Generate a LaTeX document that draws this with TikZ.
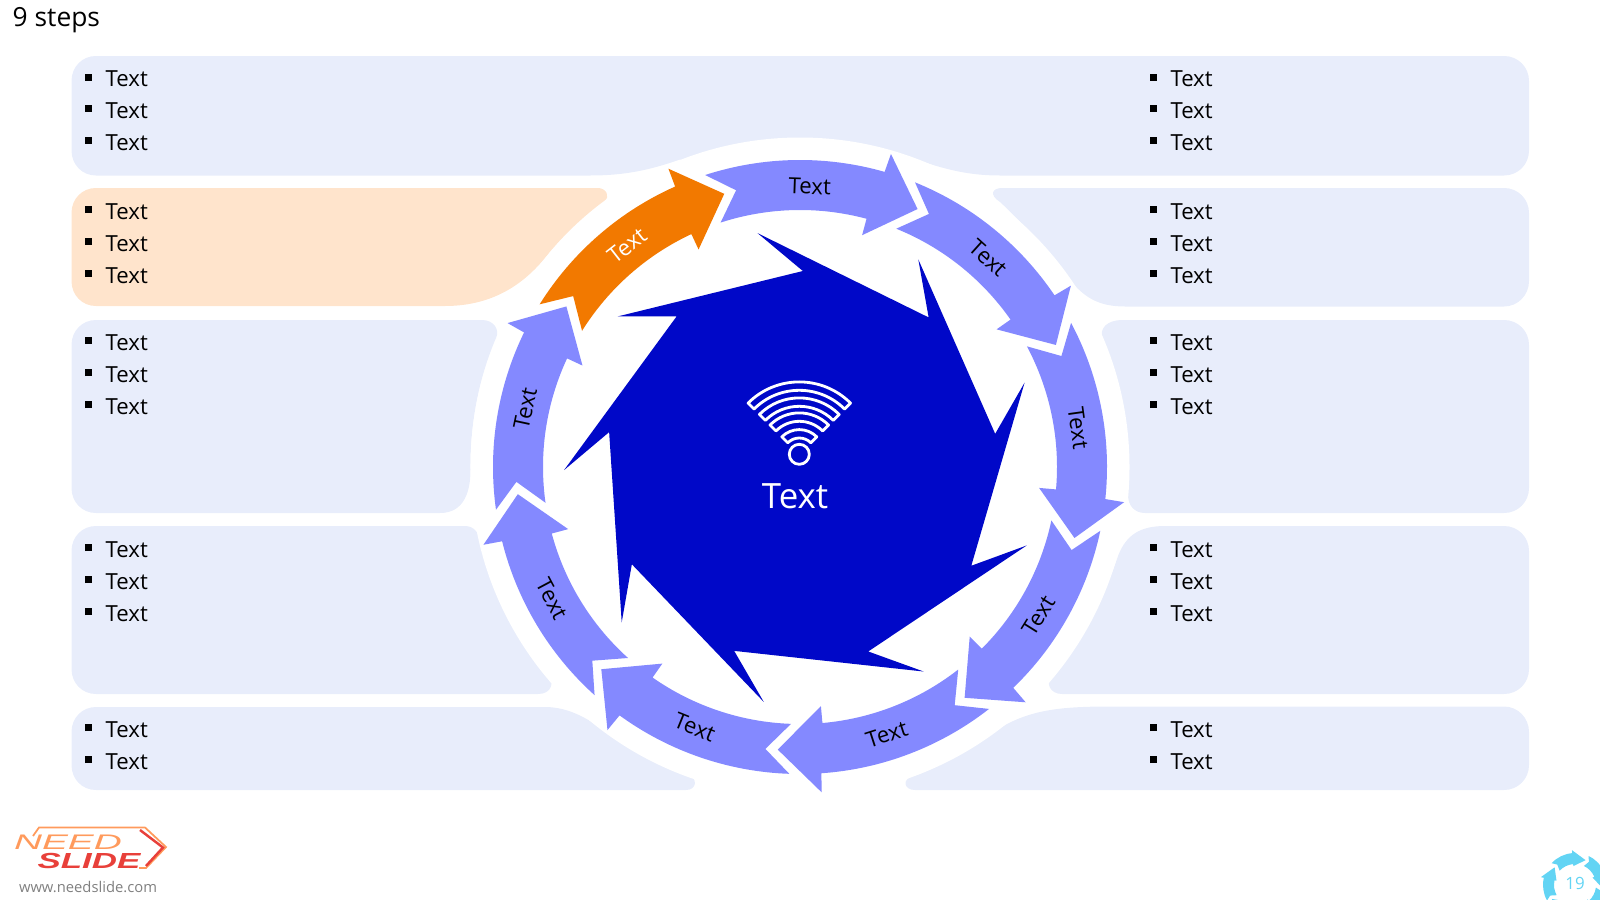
\documentclass[tikz,border=0pt]{standalone}
\usepackage{fontspec}
\setmainfont{Open Sans}
\newfontfamily\logofont{Liberation Sans}
\definecolor{Cpanelblue}{HTML}{E8EDFB}
\definecolor{Cpanelorange}{HTML}{FFE4CC}
\definecolor{Cstepblue}{HTML}{8489FF}
\definecolor{Cstepinner}{HTML}{0008C8}
\definecolor{Caccorange}{HTML}{F27900}
\definecolor{Clogoorange}{HTML}{FF9A5C}
\definecolor{Clogored}{HTML}{E8403A}
\definecolor{Cpagecyan}{HTML}{62D4F4}
\newcommand{\bulletbox}{\rule[0.06cm]{0.07cm}{0.07cm}\hspace{0.133cm}}
\tikzset{
	panel/.style={fill=Cpanelblue},
	itemtext/.style={anchor=base west,inner sep=0pt,font=\fontsize{6.3}{7}\selectfont},
	steptext/.style={inner sep=0pt,font=\fontsize{6.3}{7}\selectfont},
}

\begin{document}
\begin{tikzpicture}[x=0.01cm,y=-0.01cm]
	\useasboundingbox (0,0) rectangle (1600,900);
	\node[anchor=base west,inner sep=0pt,font=\fontsize{7.5}{9}\selectfont] (title) at (12,26) {9 steps};
	% panels
	\fill[panel] (96,56) -- (1504,56) .. controls (1518,56) and (1529,67) .. (1529,81) -- (1529,150.5)
		.. controls (1529,164.5) and (1518,175.5) .. (1504,175.5) -- (1000,175.5)
		.. controls (965,175.5) and (940,168) .. (905,155.5) -- (800,200) -- (680,159.5)
		.. controls (650,170) and (625,175.5) .. (590,175.5) -- (96,175.5)
		.. controls (82,175.5) and (71.5,164.5) .. (71.5,150.5) -- (71.5,81)
		.. controls (71.5,67) and (82,56) .. (96,56) -- cycle;
	\fill[fill=Cpanelorange] (96,188) -- (598,188) .. controls (606,188) and (611,197) .. (604,201)
		.. controls (585,215) and (563,235) .. (545,258) .. controls (525,282) and (495,306) .. (445,306)
		-- (96,306) .. controls (82,306) and (71.5,295) .. (71.5,281) -- (71.5,213)
		.. controls (71.5,199) and (82,188) .. (96,188) -- cycle;
	\fill[panel] (1002,188) -- (1504,188) .. controls (1518,188) and (1529,199) .. (1529,213) -- (1529,281)
		.. controls (1529,295) and (1518,306.5) .. (1504,306.5) -- (1125,306.5)
		.. controls (1098,306.5) and (1084,297) .. (1070,280) .. controls (1050,255) and (1025,225) .. (1000,202)
		.. controls (989,195) and (992,188) .. (1002,188) -- cycle;
	\fill[panel] (96,320) -- (482,320) .. controls (494,320) and (500,330) .. (496,338)
		.. controls (478,380) and (470,425) .. (470.5,470) .. controls (470.5,490) and (465,513) .. (440,513)
		-- (96,513) .. controls (82,513) and (71.5,502) .. (71.5,488) -- (71.5,345)
		.. controls (71.5,331) and (82,320) .. (96,320) -- cycle;
	\fill[panel] (1122,320) -- (1504,320) .. controls (1518,320) and (1529,331) .. (1529,345) -- (1529,488)
		.. controls (1529,502) and (1518,513) .. (1504,513) -- (1145,513)
		.. controls (1134,513) and (1128,505) .. (1128,495) .. controls (1129,440) and (1120,385) .. (1103,340)
		.. controls (1098,328) and (1108,320) .. (1122,320) -- cycle;
	\fill[panel] (96,526) -- (465,526) .. controls (474,526) and (479,533) .. (481,542)
		.. controls (495,600) and (520,640) .. (548,672) .. controls (555,682) and (552,694) .. (538,694)
		-- (96,694) .. controls (82,694) and (71.5,683) .. (71.5,669) -- (71.5,551)
		.. controls (71.5,537) and (82,526) .. (96,526) -- cycle;
	\fill[panel] (1165,526) -- (1504,526) .. controls (1518,526) and (1529,537) .. (1529,551) -- (1529,669)
		.. controls (1529,683) and (1518,694) .. (1504,694) -- (1062,694)
		.. controls (1050,694) and (1045,683) .. (1052,675) .. controls (1082,640) and (1105,595) .. (1118,556)
		.. controls (1126,535) and (1140,526) .. (1165,526) -- cycle;
	\fill[panel] (96,707) -- (545,707) .. controls (570,707) and (590,720) .. (608,733)
		.. controls (630,750) and (660,766) .. (688,775) .. controls (698,778) and (697,790) .. (686,790)
		-- (96,790) .. controls (82,790) and (71.5,779) .. (71.5,765) -- (71.5,732)
		.. controls (71.5,718) and (82,707) .. (96,707) -- cycle;
	\fill[panel] (1110,706.5) -- (1504,706.5) .. controls (1518,706.5) and (1529,718) .. (1529,732) -- (1529,765)
		.. controls (1529,779) and (1518,790) .. (1504,790) -- (915,790)
		.. controls (904,790) and (901,779) .. (914,776) .. controls (935,769) and (960,752) .. (1000,728)
		.. controls (1030,710) and (1060,706.5) .. (1110,706.5) -- cycle;
	% bullet rows
	\foreach \y [count=\n] in {87,118,150,219,251,283,350,382,414,557,589,621,737,769}{
		\node[itemtext] (left\n) at (84.7,\y) {\bulletbox Text};
		\node[itemtext] (right\n) at (1149.5,\y) {\bulletbox Text};}
	% ring
	\begin{scope}[shift={(800,467)},y=0.01cm]
		\fill[white] (0,0) circle (329.5);
		\foreach \a/\c/\tc/\rot [count=\n] in {148/Caccorange/white/38,108/Cstepblue/black/-2,
				68/Cstepblue/black/-42,28/Cstepblue/black/-82,-12/Cstepblue/black/58,
				-52/Cstepblue/black/18,-92/Cstepblue/black/-22,-132/Cstepblue/black/-62,
				-172/Cstepblue/black/78}{
			\fill[\c] (\a:307) arc[start angle=\a,end angle=\a-34,radius=307] -- (\a-34.2:326)
				-- (\a-42.5:283.5) -- (\a-33:240) -- (\a-33:257)
				arc[start angle=\a-33,end angle=\a,radius=257] -- (\a-5:284) -- cycle;
			\node[steptext,text=\tc,rotate=\rot] (step\n) at (\a-20:281) {Text};}
	\end{scope}
	\begin{scope}[shift={(802,467)},y=0.01cm]
		\fill[Cstepinner] (100.75:238) \foreach \t in {100.75,60.75,20.75,-19.25,-59.25,-99.25,-139.25,-179.25,-219.25}{
			-- (\t:238) -- (\t-51:196)} -- cycle;
	\end{scope}
	% wifi icon
	\begin{scope}[shift={(799.3,454.3)},y=0.01cm]
		\foreach \ro/\ri in {72.4/64,56.4/48,41.4/33,24.7/16.3}{
			\draw[white,line width=0.8pt,line join=round] (45:\ro) arc[start angle=45,end angle=135,radius=\ro]
				-- (135:\ri) arc[start angle=135,end angle=45,radius=\ri] -- cycle;}
		\draw[white,line width=0.8pt] (0,0) circle (10);
	\end{scope}
	\node[anchor=base,inner sep=0pt,text=white,font=\fontsize{9.9}{11}\selectfont] (hub) at (795,508) {Text};
	% logo
	\draw[Clogoorange,line width=0.5pt] (33,836) -- (39,827.5) -- (145,827.5) -- (166,847) -- (146,868) -- (139,868);
	\draw[Clogored,line width=0.7pt] (140,830) -- (163,847.5) -- (146,866);
	\node[inner sep=0pt,text=Clogoorange,font=\logofont\itshape\fontsize{6}{7}\selectfont,xscale=1.84] (logotop) at (68,842.5) {NEED};
	\node[inner sep=0pt,text=Clogored,font=\logofont\itshape\bfseries\fontsize{6.2}{7}\selectfont,xscale=1.6] (logobot) at (89,861) {SLIDE};
	\node[inner sep=0pt,text=black!50,font=\fontsize{4.2}{5}\selectfont] (logourl) at (88,887) {www.needslide.com};
	% page badge
	\begin{scope}[shift={(1575,885)},y=0.01cm]
		\foreach \a in {137,65,-7,-79,-151}{
			\fill[Cpagecyan] (\a:32) arc[start angle=\a,end angle=\a-42,radius=32] -- (\a-42:35)
				-- (\a-70:27) -- (\a-42:19) -- (\a-42:21)
				arc[start angle=\a-42,end angle=\a,radius=21] -- (\a-6:27) -- cycle;}
		\node[inner sep=0pt,text=Cpagecyan,font=\fontsize{4.8}{6}\selectfont] (pagenum) at (0,2) {19};
	\end{scope}
\end{tikzpicture}
\end{document}
